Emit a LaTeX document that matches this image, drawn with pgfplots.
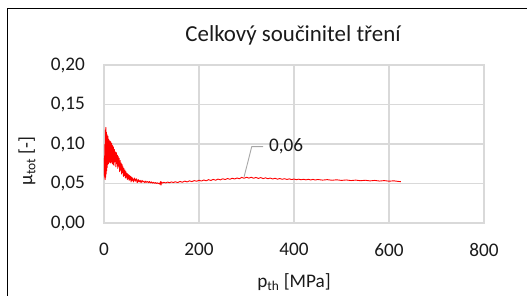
\documentclass[border=0pt]{standalone}
\usepackage{fontspec}
\setmainfont{Carlito}
\usepackage{pgfplots}
\pgfplotsset{compat=1.18}
\definecolor{gridgray}{HTML}{D9D9D9}
\definecolor{txt}{HTML}{1A1A1A}
\begin{document}
\begin{tikzpicture}[x=1bp,y=1bp]
\useasboundingbox (0,0) rectangle (527,295);
\clip (0,0) rectangle (527,295);
\draw[black, line width=1.5bp] (7.5,286.5) rectangle (560,-20);
\begin{axis}[
  at={(104bp,72bp)}, anchor=origin,
  scale only axis, width=380bp, height=158bp,
  xmin=0, xmax=800, ymin=0, ymax=0.2,
  xtick={0,200,400,600,800}, ytick={0,0.05,0.1,0.15,0.2},
  grid=major,
  major grid style={gridgray, line width=1.1bp},
  axis line style={gridgray, line width=1.1bp},
  tick style={draw=none},
  font=\fontsize{19.3}{22}\selectfont,
  /pgf/number format/assume math mode=true,
  y tick label style={/pgf/number format/fixed, /pgf/number format/fixed zerofill, /pgf/number format/precision=2, /pgf/number format/use comma, anchor=east, inner sep=0pt, xshift=-19bp, txt},
  x tick label style={/pgf/number format/fixed, /pgf/number format/precision=0, /pgf/number format/1000 sep={}, anchor=north, inner sep=0pt, yshift=-20bp, txt},
  clip=false,
]
\addplot[red, line width=0.9bp, line join=round] coordinates {
(0.5,0.060)(1,0.085)(1.5,0.057)(2,0.100)(2.5,0.055)(3,0.118)(3.5,0.058)(4,0.121)(4.5,0.062)(5,0.115)
(5.5,0.066)(6,0.112)(6.5,0.070)(7,0.106)(7.5,0.074)(8,0.110)(8.5,0.080)(9,0.100)(9.5,0.075)(10,0.106)
(10.5,0.082)(11,0.098)(11.5,0.077)(12,0.104)(12.5,0.085)(13,0.097)(13.5,0.076)(14,0.103)(14.5,0.081)(15,0.100)
(15.5,0.077)(16,0.101)(16.5,0.083)(17,0.095)(17.5,0.075)(18,0.098)(18.5,0.080)(19,0.094)(19.5,0.074)(20,0.096)
(21,0.073)(22,0.093)(23,0.078)(24,0.090)(25,0.071)(26,0.089)(27,0.075)(28,0.086)(29,0.069)(30,0.084)
(31,0.072)(32,0.082)(33,0.065)(34,0.079)(35,0.067)(36,0.076)(37,0.062)(38,0.074)(39,0.064)(40,0.071)
(41,0.059)(42,0.069)(43,0.060)(44,0.067)(45,0.057)(46,0.065)(47,0.058)(48,0.063)(49,0.055)(50,0.062)
(51,0.056)(52,0.061)(53,0.054)(54,0.060)(55,0.055)(56,0.059)(57,0.052)(58,0.058)(59,0.054)(60,0.057)
(62,0.052)(64,0.057)(66,0.053)(68,0.056)(70,0.051)(72,0.055)(74,0.052)(76,0.054)(78,0.051)(80,0.054)
(82,0.052)(84,0.053)(86,0.051)(88,0.053)(90,0.0515)(92,0.0525)(94,0.051)(96,0.0525)(98,0.0508)(100,0.052)
(102,0.0505)(104,0.0515)(106,0.0503)(108,0.0512)(110,0.050)(112,0.051)(114,0.0498)(116,0.0505)(118,0.049)(119,0.0525)
(120,0.048)(121,0.052)(123,0.0505)(126,0.0515)(130,0.0508)(134,0.0518)(138,0.0510)(142,0.0520)(146,0.0512)(150,0.0523)
(155,0.0512)(160,0.0526)(165,0.0516)(170,0.0530)(175,0.0520)(180,0.0534)(185,0.0524)(190,0.0537)(195,0.0528)(200,0.0542)
(205,0.0531)(210,0.0545)(215,0.0534)(220,0.0549)(225,0.0538)(230,0.0552)(235,0.0542)(240,0.0556)(245,0.0546)(250,0.0560)
(255,0.0550)(260,0.0563)(265,0.0553)(270,0.0567)(275,0.0557)(280,0.0570)(285,0.0560)(290,0.0578)(295,0.0566)(300,0.0580)
(305,0.0568)(310,0.0579)(315,0.0566)(320,0.0577)(325,0.0564)(330,0.0575)(335,0.0562)(340,0.0572)(345,0.0560)(350,0.0569)
(355,0.0557)(360,0.0566)(365,0.0555)(370,0.0563)(375,0.0553)(380,0.0561)(385,0.0551)(390,0.0559)(395,0.0550)(400,0.0557)
(405,0.0548)(410,0.0555)(415,0.0547)(420,0.0554)(425,0.0546)(430,0.0553)(435,0.0545)(440,0.0552)(445,0.0544)(450,0.0551)
(460,0.0543)(470,0.0549)(480,0.0541)(490,0.0547)(500,0.0539)(510,0.0545)(520,0.0537)(530,0.0543)(540,0.0535)(550,0.0541)
(560,0.0533)(570,0.0539)(580,0.0531)(590,0.0537)(600,0.0529)(610,0.0534)(620,0.0526)(625,0.0523)
};
\draw[gray!70, line width=0.9bp] (axis cs:295,0.0586) -- (axis cs:311,0.0966) -- (axis cs:335,0.0966);
\node[anchor=west, inner sep=0pt, txt, font=\fontsize{19.3}{22}\selectfont] at (axis cs:347,0.0966) {0,06};
\end{axis}
\node[txt, anchor=base, font=\fontsize{23}{26}\selectfont] at (293,253.5) {Celkový součinitel tření};
\node[txt, anchor=base, font=\fontsize{19.3}{22}\selectfont] at (294,8) {p\textsubscript{th} [MPa]};
\node[txt, rotate=90, font=\fontsize{19.3}{22}\selectfont] at (27,134) {µ\textsubscript{tot} [-]};
\end{tikzpicture}
\end{document}
